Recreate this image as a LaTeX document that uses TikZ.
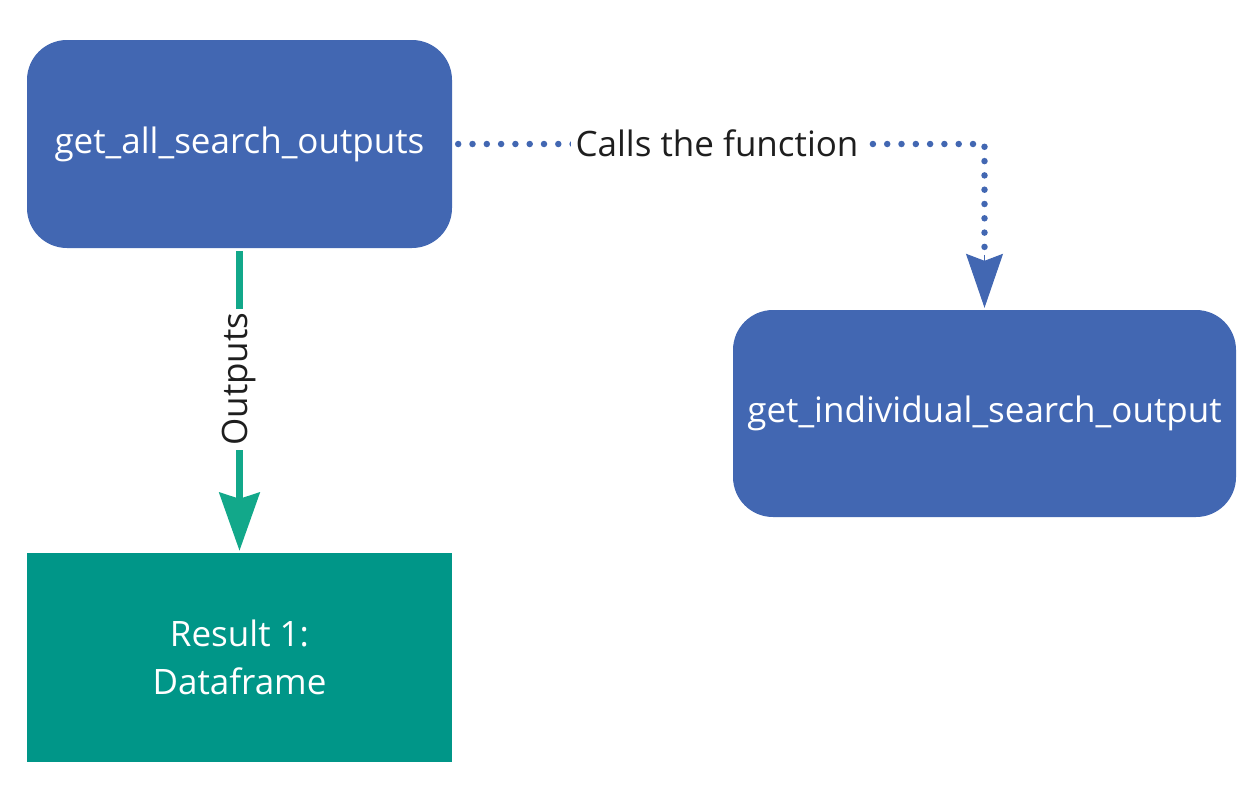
\documentclass[tikz,border=0pt]{standalone}
\usepackage{fontspec}
\setmainfont{Open Sans}
\usetikzlibrary{arrows.meta}
\definecolor{fnblue}{RGB}{66,103,178}
\definecolor{fnteal}{RGB}{0,150,136}
\definecolor{arrteal}{RGB}{18,168,138}
\definecolor{txt}{RGB}{30,30,30}
\begin{document}
\begin{tikzpicture}[x=1pt,y=-1pt,
  fnbox/.style={fill=fnblue,rounded corners=40pt,text=white,font=\fontsize{35}{42}\selectfont},
  resbox/.style={fill=fnteal,text=white,align=center,font=\fontsize{35}{48}\selectfont},
  lbl/.style={fill=white,text=txt,font=\fontsize{35}{42}\selectfont,inner sep=6pt}]
\useasboundingbox (0,0) rectangle (1257,795);
\node[fnbox,minimum width=425pt,minimum height=208pt] (A) at (239.5,144) {get\_all\_search\_outputs};
\node[fnbox,minimum width=503pt,minimum height=207pt] (B) at (984.5,413.5) {get\_individual\_search\_output};
\node[resbox,minimum width=425pt,minimum height=209pt] (C) at (239.5,657.5) {Result 1:\\Dataframe};
\coordinate (corner) at (B.north |- A.east);
\draw[arrteal,line width=7pt,-{Stealth[length=58pt,width=40pt,inset=6pt]},shorten <=3pt,shorten >=2pt]
  (A.south) -- node[lbl,rotate=90,pos=0.43,inner sep=4pt] {Outputs} (C.north);
\draw[fnblue,line width=6.5pt,line cap=round,dash pattern=on 0pt off 14.3pt,shorten <=6pt]
  (A.east) -- (corner) -- ([yshift=62pt]B.north);
\draw[fnblue,line width=1pt,-{Stealth[length=54pt,width=37pt,inset=7pt]}]
  ([yshift=55pt]B.north) -- ([yshift=2pt]B.north);
\node[lbl,inner sep=5pt] (L) at (717,143) {Calls the function};
\end{tikzpicture}
\end{document}
